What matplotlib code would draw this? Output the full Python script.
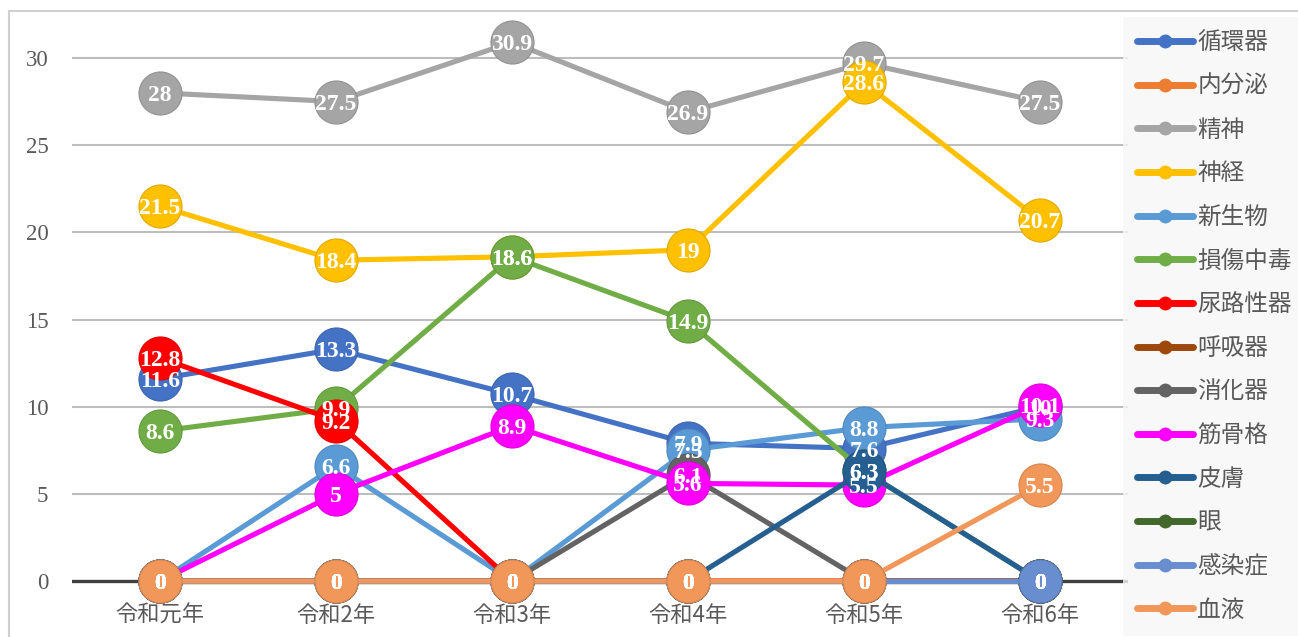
import matplotlib
matplotlib.use("Agg")
import matplotlib.pyplot as plt
from matplotlib.lines import Line2D
from matplotlib.patches import Rectangle
import matplotlib.colors as mcolors

# Categories (fiscal years) and series values
years = ["令和元年", "令和2年", "令和3年", "令和4年", "令和5年", "令和6年"]

series_names = ["循環器", "内分泌", "精神", "神経", "新生物", "損傷中毒", "尿路性器",
                "呼吸器", "消化器", "筋骨格", "皮膚", "眼", "感染症", "血液"]

junkanki   = [11.6, 13.3, 10.7, 7.9, 7.6, 10]
naibunpi   = [0, 0, 0, 0, 0, 0]
seishin    = [28, 27.5, 30.9, 26.9, 29.7, 27.5]
shinkei    = [21.5, 18.4, 18.6, 19, 28.6, 20.7]
shinseibutsu = [0, 6.6, 0, 7.5, 8.8, 9.3]
sonsho     = [8.6, 9.9, 18.6, 14.9, 6.3, 0]
nyoro      = [12.8, 9.2, 0, 0, 0, 0]
kokyuki    = [0, 0, 0, 0, 0, 0]
shokaki    = [0, 0, 0, 6.1, 0, 0]
kinkokkaku = [0, 5, 8.9, 5.6, 5.5, 10.1]
hifu       = [0, 0, 0, 0, 6.3, 0]
me         = [0, 0, 0, 0, 0, 0]
kansensho  = [0, 0, 0, 0, 0, 0]
ketsueki   = [0, 0, 0, 0, 0, 5.5]

series_values = [junkanki, naibunpi, seishin, shinkei, shinseibutsu, sonsho, nyoro,
                 kokyuki, shokaki, kinkokkaku, hifu, me, kansensho, ketsueki]

colors = ["#4472C4", "#ED7D31", "#A5A5A5", "#FFC000", "#5B9BD5", "#70AD47", "#FF0000",
          "#9E480E", "#636363", "#FF00FF", "#255E91", "#43682B", "#698ED0", "#F1975A"]

y_ticks = [0, 5, 10, 15, 20, 25, 30]

W, H = 1298, 637
fig = plt.figure(figsize=(W / 100, H / 100), dpi=100)
fig.patch.set_facecolor("white")


def px_box(left, top, right, bottom):
    return [left / W, 1 - bottom / H, (right - left) / W, (bottom - top) / H]


def darker(c, f=0.75):
    r, g, b = mcolors.to_rgb(c)
    return (r * f, g * f, b * f)


# outer chart border
fig.patches.append(Rectangle((9 / W, -0.2), 2.0, (H - 11) / H + 0.2,
                             transform=fig.transFigure, fill=False,
                             edgecolor="#d0d0d0", lw=1.5, zorder=0))

ax = fig.add_axes(px_box(72, 20, 1128, 600))
ax.set_facecolor("none")

x = list(range(len(years)))
upp = 30 / 523.0
ax.set_xlim(-0.5, len(years) - 0.5)
ax.set_ylim(-19 * upp, 30 + 38 * upp)

for s in ax.spines.values():
    s.set_visible(False)
ax.set_yticks(y_ticks)
ax.set_xticks(x)
ax.set_xticklabels(years, family="Noto Sans CJK JP", fontsize=16, color="#595959")
ax.set_yticklabels([str(t) for t in y_ticks], family="Liberation Serif",
                   fontsize=16.5, color="#595959")
ax.tick_params(axis="both", length=0)
ax.tick_params(axis="y", pad=17)
ax.tick_params(axis="x", pad=3)
ax.yaxis.grid(True, color="#bdbdbd", lw=1.5, zorder=0)
ax.set_axisbelow(True)
ax.axhline(0, color="#404040", lw=2.4, zorder=1)

for i, (vals, col) in enumerate(zip(series_values, colors)):
    ax.plot(x, vals, color=col, lw=3.7, marker="o", ms=31, mfc=col,
            mec=darker(col, 0.88), mew=0.8, zorder=3 + i, clip_on=False,
            solid_capstyle="round", solid_joinstyle="round")
    for xi, v in zip(x, vals):
        ax.text(xi, v, f"{v:g}", ha="center", va="center_baseline", color="white",
                fontsize=17, fontweight="bold", family="Liberation Serif",
                zorder=40 + i)

handles = [Line2D([0], [0], color=c, lw=5, marker="o", ms=9, mfc=c, mec=c,
                  solid_capstyle="round") for c in colors]
leg = fig.legend(handles, series_names, loc="upper left",
                 bbox_to_anchor=(1123 / W, 1 - 17 / H), borderaxespad=0,
                 prop={"family": "Noto Sans CJK JP", "size": 17},
                 labelcolor="#595959", handlelength=2.37, handletextpad=0.18,
                 labelspacing=0.875, borderpad=0.6, frameon=True, fancybox=False)
leg.get_frame().set_facecolor("#f7f7f7")
leg.get_frame().set_edgecolor("none")

fig.savefig("out.png", dpi=100)
